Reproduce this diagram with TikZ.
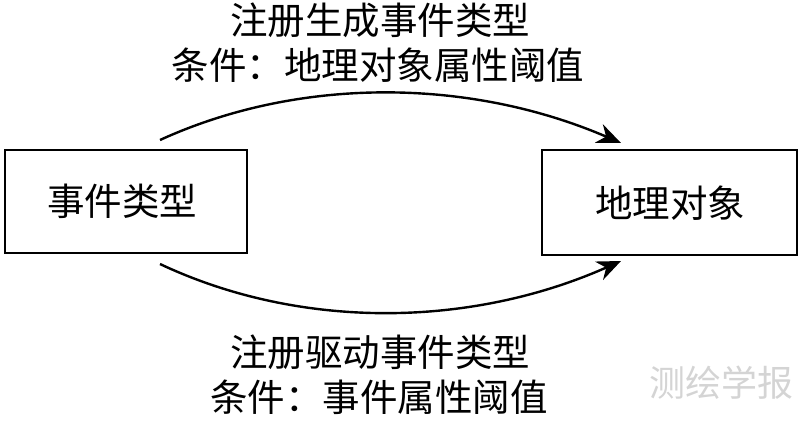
\documentclass[tikz,border=0pt]{standalone}
\usepackage{fontspec}
\newfontfamily\cjk{Noto Sans CJK SC}
\usetikzlibrary{arrows.meta}
\begin{document}
\begin{tikzpicture}[x=1pt,y=-1pt,
  box/.style={draw, line width=2pt, inner sep=0pt},
  lbl/.style={font=\cjk\fontsize{37.5}{40}\selectfont, inner sep=0pt},
  arr/.style={line width=2.4pt, -{Stealth[length=24pt,width=20pt]}},
  wm/.style={font=\cjk\fontsize{36}{40}\selectfont, text=black!17, inner sep=0pt}]
\useasboundingbox (0,0) rectangle (800,421);
\node[box, minimum width=242pt, minimum height=103pt] (a) at (126,201.5) {};
\node[lbl] (at) at (122,201) {事件类型};
\node[box, minimum width=255pt, minimum height=105pt] (b) at (669.5,202.5) {};
\node[lbl] (bt) at (670,203) {地理对象};
\coordinate (s1) at (160,140);
\coordinate (e1) at (621,143);
\coordinate (s2) at (160,264);
\coordinate (e2) at (621,261);
\draw[arr] (s1) .. controls (300,76) and (470,78) .. (e1);
\draw[arr] (s2) .. controls (300,330) and (470,328) .. (e2);
\node[lbl] (t1) at (380,20) {注册生成事件类型};
\node[lbl] (t2) at (378,65) {条件：地理对象属性阈值};
\node[lbl] (t3) at (380,352) {注册驱动事件类型};
\node[lbl] (t4) at (379,397) {条件：事件属性阈值};
\node[wm] (w) at (721,383) {测绘学报};
\end{tikzpicture}
\end{document}
